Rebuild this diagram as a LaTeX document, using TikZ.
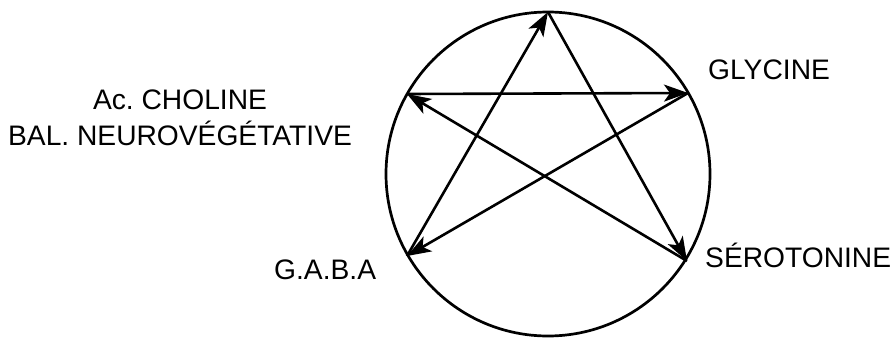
\documentclass[tikz,border=0pt]{standalone}
\usepackage{fontspec}
\setmainfont{Liberation Sans}
\usetikzlibrary{arrows.meta}
\frenchspacing
\begin{document}
\begin{tikzpicture}[x=1pt,y=-1pt,
  edge/.style={line width=2.6pt,-{Stealth[length=24pt,width=17pt,inset=6pt]}},
  lbl/.style={font=\fontsize{28.2}{34}\selectfont,inner sep=0pt}]
\useasboundingbox (0,0) rectangle (896,342);
\node[draw,circle,line width=2.7pt,minimum size=324pt,inner sep=0pt] (c) at (548,174) {};
\coordinate (T) at (548,12);
\coordinate (UR) at (688,93);
\coordinate (LR) at (687,261);
\coordinate (LL) at (407,256);
\coordinate (UL) at (407,94);
\draw[edge] (LL) -- (T);
\draw[edge] (T) -- (LR);
\draw[edge] (LR) -- (UL);
\draw[edge] (UL) -- (UR);
\draw[edge] (UR) -- (LL);
\node[lbl,anchor=base west] (gly) at (708,80) {GLYCINE};
\node[lbl,anchor=base west] (ser) at (705,267) {SÉROTONINE};
\node[lbl,anchor=base west] (gaba) at (274,279) {G.A.B.A};
\node[lbl,anchor=base] (ach) at (180,110) {Ac.\ CHOLINE};
\node[lbl,anchor=base] (bal) at (180,146) {BAL.\ NEUROVÉGÉTATIVE};
\end{tikzpicture}
\end{document}
